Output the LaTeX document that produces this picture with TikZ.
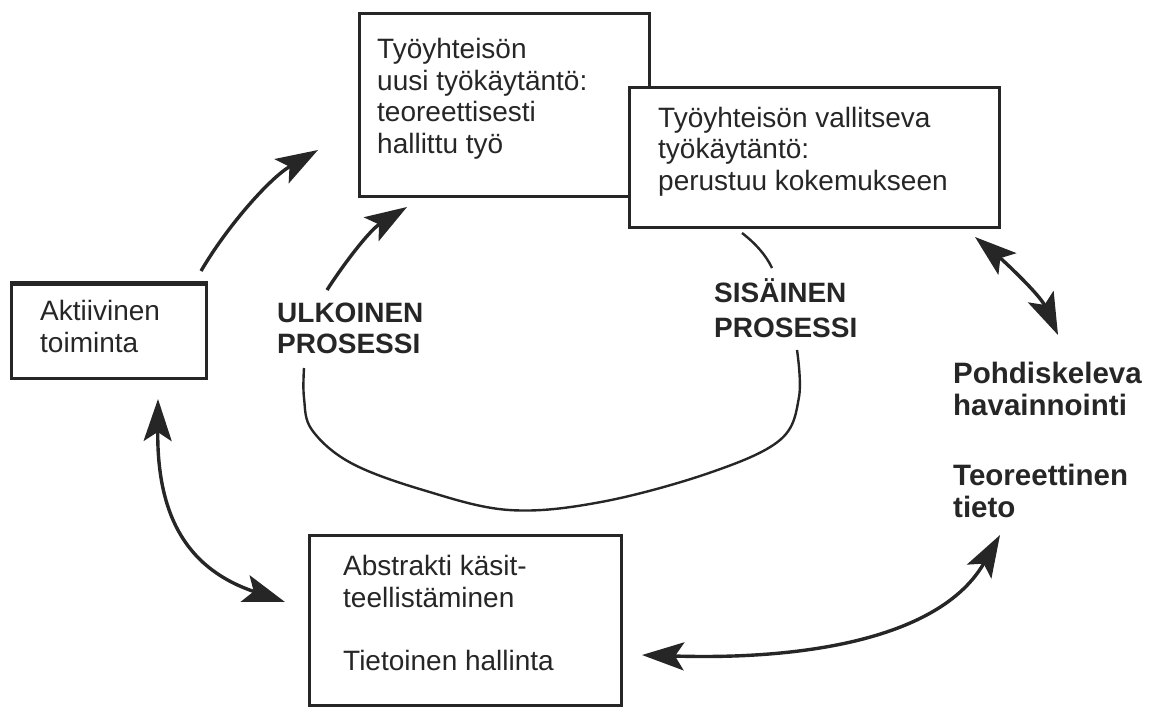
\documentclass[tikz,border=0pt]{standalone}
\usepackage{fontspec}
\setmainfont{Liberation Sans}
\usetikzlibrary{arrows.meta}
\definecolor{ink}{HTML}{262626}
\begin{document}
\begin{tikzpicture}[x=1pt, y=-1pt,
  box/.style={draw=ink, line width=2.6pt, fill=white, anchor=north west, inner sep=0pt},
  % multi-line texts are placed by the baseline of their last line
  txt/.style={text=ink, font=\fontsize{28}{31.5}\selectfont, align=left, anchor=base west, inner sep=0pt},
  boldtxt/.style={txt, font=\fontsize{28}{31}\selectfont\bfseries},
  link/.style={draw=ink, line width=3.4pt, -{Stealth[length=42pt, width=28pt, inset=9pt]}},
  twoway/.style={draw=ink, line width=3.4pt, {Stealth[length=42pt, width=28pt, inset=9pt]}-{Stealth[length=42pt, width=28pt, inset=9pt]}},
  cycle line/.style={draw=ink, line width=2.4pt}]

\useasboundingbox (0,0) rectangle (1150,707);

% boxes and their texts
\node[box, minimum width=290pt, minimum height=183pt] (b1) at (358,12) {};
\node[txt] (t1) at (377,153) {Työyhteisön\\uusi työkäytäntö:\\teoreettisesti\\hallittu työ};

\node[box, minimum width=370pt, minimum height=140pt] (b2) at (628,86) {};
\node[txt] (t2) at (658,190) {Työyhteisön vallitseva\\työkäytäntö:\\perustuu kokemukseen};

\node[box, minimum width=195pt, minimum height=94pt] (b3) at (10,283) {};
\draw[ink, line width=4.2pt] (b3.north west) -- (b3.north east);
\node[txt] (t3) at (40,352) {Aktiivinen\\toiminta};

\node[box, minimum width=312pt, minimum height=170pt] (b4) at (308,534) {};
\node[txt] (t4) at (343,670) {Abstrakti käsit-\\teellistäminen\\[31.5pt]Tietoinen hallinta};

% free labels
\node[boldtxt] (ul) at (277,353) {ULKOINEN\\PROSESSI};
\node[boldtxt, font=\fontsize{28}{35}\selectfont\bfseries] (si) at (714,337) {SISÄINEN\\PROSESSI};
\node[boldtxt, font=\fontsize{29.5}{32}\selectfont\bfseries] (ph) at (953,517) {Pohdiskeleva\\havainnointi\\[38pt]Teoreettinen\\tieto};

% connector end points
\coordinate (a1s) at (201,271);
\coordinate (a1e) at (318,150);
\coordinate (ulA) at (327,290);
\coordinate (ulB) at (407,207);
\coordinate (siA) at (742,233);
\coordinate (siB) at (772,268);
\coordinate (loopA) at (797,350);
\coordinate (loopB) at (304,368);
\coordinate (trA) at (975,237);
\coordinate (trB) at (1058,335);
\coordinate (lfA) at (158,399);
\coordinate (lfB) at (285,602);
\coordinate (btA) at (642,655);
\coordinate (btB) at (1000,535);

% arrows
\draw[link] (a1s) .. controls (228,225) and (270,178) .. (a1e);
\draw[link] (ulA) .. controls (345,262) and (370,230) .. (ulB);

% inner/outer process cycle
\draw[cycle line] (siA) .. controls (755,243) and (766,255) .. (siB);
\draw[cycle line] plot[smooth, tension=0.6] coordinates {(loopA) (799,397) (780,440) (709,473) (601,502) (509,510) (423,490) (351,463) (312,430) (304,398) (loopB)};

% two-way arrows
\draw[twoway] (trA) .. controls (1005,262) and (1040,295) .. (trB);
\draw[twoway] (lfA) .. controls (157,520) and (190,570) .. (lfB);
\draw[twoway] (btA) .. controls (800,660) and (940,640) .. (btB);

\end{tikzpicture}
\end{document}
